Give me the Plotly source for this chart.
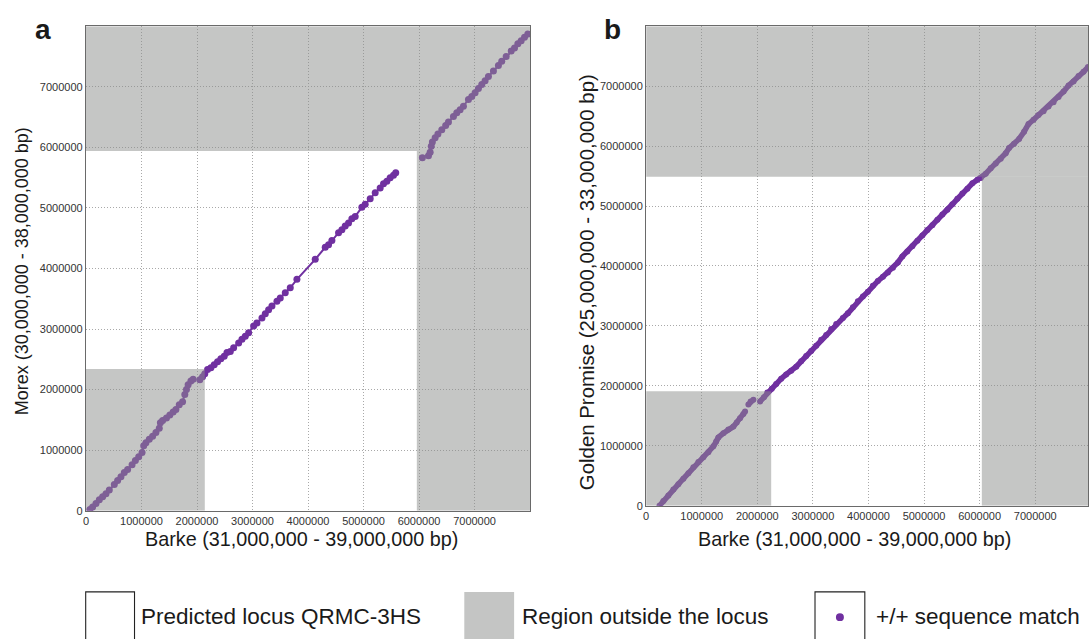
import plotly.graph_objects as go

W, H = 1089, 639

# ---------------- data (values in bp) ----------------
# Panel a: Barke vs Morex (None = break in the alignment)
a_x = [0.07e6, 0.12e6, 0.18e6, 0.24e6, 0.30e6, 0.36e6, 0.42e6, 0.51e6, 0.57e6, 0.63e6,
       0.69e6, 0.75e6, 0.83e6, 0.89e6, 0.95e6, 1.01e6, 1.04e6, 1.08e6, 1.14e6, 1.20e6,
       1.26e6, 1.32e6, 1.34e6, 1.38e6, 1.45e6, 1.51e6, 1.57e6, 1.62e6, 1.68e6, 1.74e6,
       1.78e6, 1.81e6, 1.84e6, 1.89e6, 1.93e6, None,
       2.05e6, 2.10e6, 2.14e6, 2.19e6, 2.25e6, 2.31e6, 2.37e6, 2.43e6, 2.49e6, 2.54e6,
       2.60e6, 2.66e6, 2.75e6, 2.81e6, 2.87e6, 2.93e6, 3.02e6, 3.08e6, 3.17e6, 3.23e6,
       3.29e6, 3.35e6, 3.44e6, 3.50e6, 3.59e6, 3.68e6, 3.80e6, 4.13e6, 4.31e6, 4.37e6,
       4.43e6, 4.55e6, 4.61e6, 4.67e6, 4.73e6, 4.79e6, 4.85e6, 4.97e6, 5.03e6, 5.12e6,
       5.21e6, 5.30e6, 5.36e6, 5.42e6, 5.48e6, 5.54e6, 5.58e6, None,
       6.06e6, None,
       6.17e6, 6.20e6, 6.22e6, 6.24e6, 6.29e6, 6.34e6, 6.41e6, 6.48e6, 6.53e6, 6.62e6,
       6.68e6, 6.74e6, 6.80e6, 6.89e6, 6.95e6, 7.01e6, 7.07e6, 7.13e6, 7.19e6, 7.25e6,
       7.34e6, 7.43e6, 7.49e6, 7.57e6, 7.66e6, 7.72e6, 7.78e6, 7.84e6, 7.90e6, 7.96e6]
a_y = [0.02e6, 0.06e6, 0.12e6, 0.18e6, 0.23e6, 0.28e6, 0.34e6, 0.43e6, 0.50e6, 0.56e6,
       0.63e6, 0.68e6, 0.76e6, 0.83e6, 0.89e6, 0.96e6, 1.07e6, 1.12e6, 1.18e6, 1.23e6,
       1.29e6, 1.36e6, 1.45e6, 1.49e6, 1.53e6, 1.58e6, 1.63e6, 1.67e6, 1.75e6, 1.80e6,
       1.92e6, 2.00e6, 2.08e6, 2.14e6, 2.17e6, None,
       2.16e6, 2.21e6, 2.26e6, 2.33e6, 2.36e6, 2.41e6, 2.46e6, 2.51e6, 2.55e6, 2.61e6,
       2.63e6, 2.69e6, 2.77e6, 2.83e6, 2.88e6, 2.94e6, 3.05e6, 3.10e6, 3.18e6, 3.25e6,
       3.32e6, 3.38e6, 3.46e6, 3.51e6, 3.60e6, 3.68e6, 3.82e6, 4.15e6, 4.35e6, 4.39e6,
       4.46e6, 4.59e6, 4.64e6, 4.70e6, 4.75e6, 4.82e6, 4.86e6, 5.01e6, 5.06e6, 5.15e6,
       5.25e6, 5.33e6, 5.40e6, 5.44e6, 5.50e6, 5.54e6, 5.58e6, None,
       5.83e6, None,
       5.86e6, 5.92e6, 6.02e6, 6.09e6, 6.16e6, 6.22e6, 6.29e6, 6.36e6, 6.42e6, 6.51e6,
       6.57e6, 6.62e6, 6.68e6, 6.79e6, 6.84e6, 6.90e6, 6.97e6, 7.04e6, 7.10e6, 7.17e6,
       7.26e6, 7.35e6, 7.42e6, 7.50e6, 7.59e6, 7.64e6, 7.71e6, 7.76e6, 7.82e6, 7.87e6]

# Panel b: Barke vs Golden Promise
b_x = [0.24e6, 0.31e6, 0.40e6, 0.49e6, 0.58e6, 0.67e6, 0.76e6, 0.85e6, 0.94e6, 1.03e6,
       1.12e6, 1.21e6, 1.26e6, 1.30e6, 1.39e6, 1.48e6, 1.57e6, 1.63e6, 1.69e6, 1.75e6,
       1.78e6, None, 1.84e6, 1.88e6, 1.93e6, None, 2.05e6, 2.12e6, 2.18e6, 2.26e6,
       2.34e6, 2.43e6, 2.52e6, 2.61e6, 2.70e6, 2.79e6, 2.88e6, 2.97e6, 3.06e6, 3.15e6,
       3.24e6, 3.33e6, 3.42e6, 3.54e6, 3.63e6, 3.72e6, 3.81e6, 3.90e6, 3.99e6, 4.08e6,
       4.17e6, 4.26e6, 4.35e6, 4.44e6, 4.53e6, 4.61e6, 4.70e6, 4.79e6, 4.88e6, 4.97e6,
       5.06e6, 5.15e6, 5.24e6, 5.33e6, 5.42e6, 5.51e6, 5.60e6, 5.69e6, 5.78e6, 5.87e6,
       5.96e6, 6.02e6, 6.11e6, 6.20e6, 6.29e6, 6.38e6, 6.47e6, 6.53e6, 6.62e6, 6.71e6,
       6.80e6, 6.88e6, 6.97e6, 7.06e6, 7.15e6, 7.24e6, 7.33e6, 7.42e6, 7.51e6, 7.60e6,
       7.69e6, 7.78e6, 7.87e6, 7.95e6]
b_y = [0.00e6, 0.08e6, 0.17e6, 0.27e6, 0.36e6, 0.45e6, 0.54e6, 0.64e6, 0.73e6, 0.81e6,
       0.89e6, 0.99e6, 1.07e6, 1.14e6, 1.21e6, 1.27e6, 1.32e6, 1.39e6, 1.46e6, 1.53e6,
       1.57e6, None, 1.69e6, 1.74e6, 1.77e6, None, 1.74e6, 1.81e6, 1.89e6, 1.95e6,
       2.03e6, 2.12e6, 2.19e6, 2.25e6, 2.32e6, 2.41e6, 2.50e6, 2.58e6, 2.67e6, 2.77e6,
       2.85e6, 2.95e6, 3.03e6, 3.13e6, 3.21e6, 3.31e6, 3.41e6, 3.49e6, 3.57e6, 3.67e6,
       3.75e6, 3.82e6, 3.89e6, 3.97e6, 4.06e6, 4.16e6, 4.24e6, 4.33e6, 4.42e6, 4.51e6,
       4.60e6, 4.68e6, 4.77e6, 4.86e6, 4.94e6, 5.03e6, 5.12e6, 5.21e6, 5.29e6, 5.38e6,
       5.44e6, 5.47e6, 5.54e6, 5.63e6, 5.71e6, 5.79e6, 5.88e6, 5.97e6, 6.04e6, 6.12e6,
       6.24e6, 6.37e6, 6.44e6, 6.52e6, 6.58e6, 6.66e6, 6.73e6, 6.82e6, 6.91e6, 7.01e6,
       7.08e6, 7.17e6, 7.24e6, 7.32e6]

# locus boundaries: (x_start, x_end, y_start, y_end)
a_locus = (2.14e6, 5.96e6, 2.34e6, 5.94e6)
b_locus = (2.25e6, 6.04e6, 1.91e6, 5.49e6)

tick_vals = [0, 1000000, 2000000, 3000000, 4000000, 5000000, 6000000, 7000000]
tick_text = [str(v) for v in tick_vals]

x_title = "Barke (31,000,000 - 39,000,000 bp)"
ya_title = "Morex (30,000,000 - 38,000,000 bp)"
yb_title = "Golden Promise (25,000,000 - 33,000,000 bp)"
legend_labels = ["Predicted locus QRMC-3HS", "Region outside the locus", "+/+ sequence match"]

# ---------------- styling ----------------
PURPLE = "#7030A0"
OVERLAY = "rgba(139,141,139,0.5)"
FONT = "Liberation Sans, Arial, sans-serif"

a_xr, a_yr = [0, 8.0e6], [0, 8.0e6]
b_xr, b_yr = [0, 7.95e6], [0, 8.0e6]


def px(x):
    return x / W


def py(y):
    return 1 - y / H


fig = go.Figure()
fig.add_trace(go.Scatter(
    x=a_x, y=a_y, xaxis="x", yaxis="y", mode="lines+markers",
    line=dict(color=PURPLE, width=2),
    marker=dict(color=PURPLE, size=7),
    connectgaps=False, showlegend=False, hoverinfo="skip"))
fig.add_trace(go.Scatter(
    x=b_x, y=b_y, xaxis="x2", yaxis="y2", mode="lines+markers",
    line=dict(color=PURPLE, width=5.5),
    marker=dict(color=PURPLE, size=6),
    connectgaps=False, showlegend=False, hoverinfo="skip"))

axis_common = dict(
    showgrid=True, gridcolor="#a9a9a9", griddash="1px,2px", gridwidth=1,
    zeroline=False, showline=True, linecolor="#6a6a6a", linewidth=1.2, mirror=True,
    ticks="", tickfont=dict(family=FONT, size=11, color="#333333"),
    tickvals=tick_vals, ticktext=tick_text, fixedrange=True)

fig.update_layout(
    width=W, height=H, margin=dict(l=0, r=0, t=0, b=0),
    paper_bgcolor="white", plot_bgcolor="white",
    font=dict(family=FONT, color="#222222"),
    xaxis=dict(domain=[px(83.3), px(529)], range=a_xr, anchor="y", **axis_common),
    yaxis=dict(domain=[py(515.5), py(26.5)], range=a_yr, anchor="x", **axis_common),
    xaxis2=dict(domain=[px(645.5), 1.0], range=b_xr, anchor="y2", **axis_common),
    yaxis2=dict(domain=[py(510.5), py(26.5)], range=b_yr, anchor="x2", **axis_common),
)

shapes = []


def overlay(xref, yref, xr, yr, locus):
    x0, x1, y0, y1 = locus
    rects = [
        (xr[0], xr[1], y1, yr[1]),      # top band
        (x1, xr[1], yr[0], y1),         # right band
        (xr[0], x0, yr[0], y0),         # bottom-left square
    ]
    for a, b, c, d in rects:
        shapes.append(dict(type="rect", xref=xref, yref=yref, x0=a, x1=b, y0=c, y1=d,
                           fillcolor=OVERLAY, line=dict(width=0), layer="above"))


overlay("x", "y", a_xr, a_yr, a_locus)
overlay("x2", "y2", b_xr, b_yr, b_locus)

# legend boxes (paper coordinates)
shapes.append(dict(type="rect", xref="paper", yref="paper", x0=px(83), x1=px(132),
                   y0=py(650), y1=py(597.5), fillcolor="white",
                   line=dict(color="#222222", width=1.1)))
shapes.append(dict(type="rect", xref="paper", yref="paper", x0=px(463), x1=px(513),
                   y0=py(650), y1=py(597.5), fillcolor="#c4c5c4", line=dict(width=0)))
shapes.append(dict(type="rect", xref="paper", yref="paper", x0=px(815), x1=px(865),
                   y0=py(650), y1=py(597.5), fillcolor="white",
                   line=dict(color="#222222", width=1.1)))
shapes.append(dict(type="circle", xref="paper", yref="paper", x0=px(836), x1=px(844),
                   y0=py(627), y1=py(619), fillcolor=PURPLE, line=dict(width=0)))

annotations = []


def ann(text, x, y, size, angle=0, bold=False, xanchor="center"):
    annotations.append(dict(
        text=f"<b>{text}</b>" if bold else text, xref="paper", yref="paper",
        x=px(x), y=py(y), xanchor=xanchor, yanchor="middle", showarrow=False,
        textangle=angle, font=dict(family=FONT, size=size, color="#1a1a1a")))


ann("a", 40, 30, 28, bold=True)
ann("b", 612, 30, 28, bold=True)
ann(x_title, 300, 544, 19.8)
ann(x_title, 855, 544, 19.8)
ann(ya_title, 20, 274, 18, angle=-90)
ann(yb_title, 586, 285, 20.4, angle=-90)
ann(legend_labels[0], 137, 622, 22.5, xanchor="left")
ann(legend_labels[1], 519, 622, 22.5, xanchor="left")
ann(legend_labels[2], 874, 622, 22.5, xanchor="left")

fig.update_layout(shapes=shapes, annotations=annotations)

fig.write_html("out.html", config={"displayModeBar": False},
               post_script="document.body.style.margin='0';")
